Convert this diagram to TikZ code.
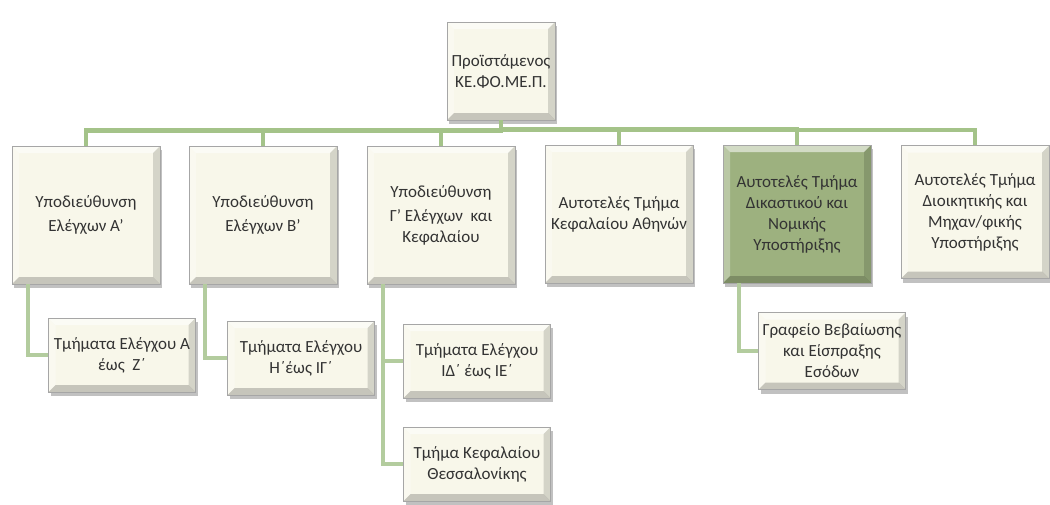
\documentclass[tikz,border=0pt]{standalone}
\usepackage{fontspec}
\setmainfont{Carlito}
\usetikzlibrary{shadows}
\definecolor{boxfill}{HTML}{F8F7EA}
\definecolor{greenfill}{HTML}{9DB17F}
\definecolor{linkgreen}{HTML}{A4C389}
\definecolor{sublink}{HTML}{B3CC9E}
\definecolor{txt}{HTML}{333333}
\tikzset{
  bevel/.style={path picture={
      \path (path picture bounding box.north west) coordinate (nw)
            (path picture bounding box.north east) coordinate (ne)
            (path picture bounding box.south west) coordinate (sw)
            (path picture bounding box.south east) coordinate (se);
      \fill[white,opacity=.55] (nw)--(ne)--([shift={(-7pt,-7pt)}]ne)--([shift={(7pt,-7pt)}]nw)--cycle;
      \fill[white,opacity=.3] (nw)--(sw)--([shift={(7pt,7pt)}]sw)--([shift={(7pt,-7pt)}]nw)--cycle;
      \fill[black,opacity=.14] (ne)--(se)--([shift={(-7pt,7pt)}]se)--([shift={(-7pt,-7pt)}]ne)--cycle;
      \fill[black,opacity=.2] (sw)--(se)--([shift={(-7pt,7pt)}]se)--([shift={(7pt,7pt)}]sw)--cycle;
    }},
  orgbox/.style={draw=black!35,line width=.6pt,fill=boxfill,bevel,align=center,
    text=txt,inner sep=2pt,
    drop shadow={shadow xshift=2pt,shadow yshift=-4pt,opacity=.35,fill=black!70}},
  unitbox/.style={orgbox,minimum width=148pt,minimum height=138pt},
  subbox/.style={orgbox,minimum width=147pt,minimum height=74pt},
  link/.style={draw=linkgreen,line width=4.5pt},
  sublinks/.style={draw=sublink,line width=4pt}
}
\begin{document}
\begin{tikzpicture}[x=1pt,y=-1pt,font=\fontsize{17}{21}\selectfont]
\useasboundingbox (0,0) rectangle (1050,504);
% top
\node[orgbox,minimum width=108pt,minimum height=98pt] (head) at (501,71) {Προϊστάμενος\\ΚΕ.ΦΟ.ΜΕ.Π.};
% units
\node[unitbox] (u1) at (86,215) {Υποδιεύθυνση\\[3pt]Ελέγχων Α'};
\node[unitbox] (u2) at (263,215) {Υποδιεύθυνση\\[3pt]Ελέγχων Β'};
\node[unitbox] (u3) at (441,215) {Υποδιεύθυνση\\[3pt]Γ' Ελέγχων ~και\\Κεφαλαίου};
\node[unitbox] (u4) at (619,214) {Αυτοτελές Τμήμα\\Κεφαλαίου Αθηνών};
\node[unitbox,fill=greenfill] (u5) at (797,214) {Αυτοτελές Τμήμα\\Δικαστικού και\\Νομικής\\Υποστήριξης};
\node[unitbox,minimum height=133pt] (u6) at (975,212) {Αυτοτελές Τμήμα\\Διοικητικής και\\Μηχαν/φικής\\Υποστήριξης};
% sections
\node[subbox] (s1) at (122,355) {Τμήματα Ελέγχου Α\\έως ~Ζ΄};
\node[subbox] (s2) at (301,358) {Τμήματα Ελέγχου\\Η΄έως ΙΓ΄};
\node[subbox] (s3) at (477,361) {Τμήματα Ελέγχου\\ΙΔ΄ έως ΙΕ΄};
\node[subbox] (s4) at (477,464) {Τμήμα Κεφαλαίου\\Θεσσαλονίκης};
\node[subbox,minimum height=77pt] (s5) at (832,351) {Γραφείο Βεβαίωσης\\και Είσπραξης\\Εσόδων};
% links
\begin{scope}[on background layer/.try]
\foreach \x in {u1,u2,u3,u4,u5,u6}
  \draw[link] (head.south) |- ([yshift=15pt]\x.north) -- (\x.north);
\foreach \a/\b in {u1/s1,u2/s2,u3/s3,u3/s4,u5/s5}
  \draw[sublinks] ([xshift=16pt]\a.south west) |- (\b.west);
\end{scope}
\end{tikzpicture}
\end{document}
